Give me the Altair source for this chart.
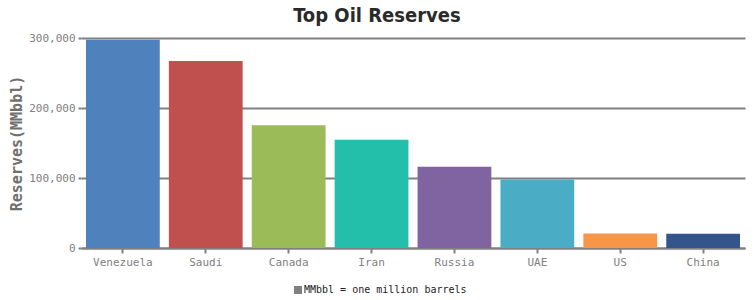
import altair as alt
import pandas as pd

countries = ["Venezuela", "Saudi", "Canada", "Iran", "Russia", "UAE", "US", "China"]
reserves = [297571, 267017, 175200, 154580, 116000, 97800, 20682, 20350]
colors = ["#4F81BC", "#C0504E", "#9BBB58", "#23BFAA", "#8064A1", "#4AACC5", "#F79647", "#33558B"]
y_ticks = [0, 100000, 200000, 300000]
legend_label = ["MMbbl = one million barrels"]

df = pd.DataFrame({"country": countries, "reserves": reserves})
leg_df = pd.DataFrame({"note": legend_label, "country": [countries[0]], "reserves": [0]})

mono = "DejaVu Sans Mono"

x_axis = alt.Axis(title=None, labelAngle=0, labelFont=mono, labelFontSize=11,
                  labelColor="#808080", domainColor="#808080", domainWidth=2,
                  tickColor="#808080", tickWidth=2, tickSize=5, labelPadding=3,
                  grid=False)
y_axis = alt.Axis(title="Reserves(MMbbl)", values=y_ticks, format=",.0f",
                  labelFont=mono, labelFontSize=11, labelColor="#808080",
                  titleFont=mono, titleFontSize=15, titleFontWeight="bold",
                  titleColor="#707070", titlePadding=4,
                  domain=False, ticks=True, tickSize=3, tickWidth=2, tickColor="#808080",
                  labelPadding=3,
                  grid=True, gridColor="#808080", gridWidth=2)
x_scale = alt.Scale(domain=countries, paddingInner=0.11, paddingOuter=0.06)
y_scale = alt.Scale(domain=[0, 300000], nice=False)

bars = alt.Chart(df).mark_bar().encode(
    x=alt.X("country:N", sort=countries, scale=x_scale, axis=x_axis),
    y=alt.Y("reserves:Q", scale=y_scale, axis=y_axis),
    color=alt.Color("country:N", sort=countries,
                    scale=alt.Scale(domain=countries, range=colors), legend=None),
)

legend_layer = alt.Chart(leg_df).mark_point(shape="square", filled=True, opacity=0).encode(
    x=alt.X("country:N", sort=countries, scale=x_scale, axis=x_axis),
    y=alt.Y("reserves:Q", scale=y_scale, axis=y_axis),
    fill=alt.Fill("note:N", scale=alt.Scale(range=["#808080"]),
                  legend=alt.Legend(title=None, orient="none", legendX=212, legendY=247,
                                    direction="horizontal", symbolType="square",
                                    symbolSize=64, symbolOpacity=1, symbolFillColor="#808080",
                                    symbolStrokeWidth=0, labelFont=mono, labelFontSize=10,
                                    labelColor="#222222", labelOffset=1, labelLimit=0)),
)

chart = alt.layer(bars, legend_layer).resolve_scale(fill="independent", color="independent").properties(
    width=664, height=210,
    autosize=alt.AutoSizeParams(type="none"),
    padding={"left": 81, "top": 38, "right": 9, "bottom": 52},
    title=alt.TitleParams("Top Oil Reserves", font="DejaVu Sans Condensed", fontSize=20,
                          fontWeight="bold", color="#2a2a2a", anchor="middle", dx=-36,
                          offset=6),
).configure_view(stroke=None)

chart.save("out.html", embed_options={"renderer": "svg", "actions": False})
